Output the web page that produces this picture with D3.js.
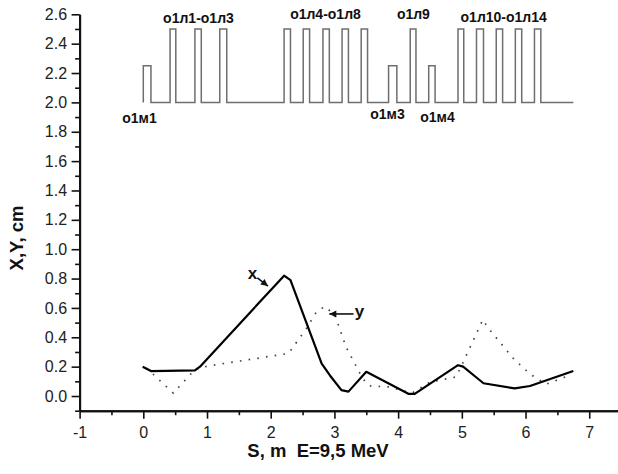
<!DOCTYPE html>
<html>
<head>
<meta charset="utf-8">
<script src="https://cdn.jsdelivr.net/npm/d3@7"></script>
<style>
	html, body { margin: 0; padding: 0; background: #fff; }
	svg { display: block; font-family: "Liberation Sans", Arial, sans-serif; }
</style>
</head>
<body>
<div id="chart"></div>
<script>
// beam envelope, S in m, X and Y in cm
const sX = [-0.01, 0.12, 0.81, 0.89, 2.21, 2.31, 2.80, 2.93, 3.11, 3.22, 3.50, 4.16, 4.26, 4.94, 5.02, 5.34, 5.83, 6.07, 6.75];
const xEnv = [0.20, 0.17, 0.175, 0.20, 0.82, 0.79, 0.22, 0.14, 0.04, 0.03, 0.165, 0.015, 0.015, 0.21, 0.20, 0.087, 0.052, 0.068, 0.17];

const sY = [0.05, 0.47, 0.81, 1.02, 2.28, 2.56, 2.72, 2.85, 3.01, 3.18, 3.40, 3.50, 3.57, 3.85, 4.22, 4.37, 4.50, 4.91, 5.02, 5.33, 5.41, 5.82, 6.07, 6.32, 6.72];
const yEnv = [0.19, 0.02, 0.18, 0.205, 0.29, 0.46, 0.575, 0.61, 0.55, 0.336, 0.155, 0.085, 0.068, 0.062, 0.02, 0.06, 0.095, 0.13, 0.23, 0.52, 0.465, 0.25, 0.15, 0.08, 0.145];

// magnetic structure drawn as pulses on top
const elemStart = [0.00, 0.42, 0.81, 1.20, 2.21, 2.51, 2.82, 3.12, 3.42, 3.85, 4.19, 4.48, 4.94, 5.23, 5.54, 5.84, 6.14];
const elemEnd = [0.12, 0.51, 0.91, 1.31, 2.31, 2.61, 2.92, 3.22, 3.52, 3.98, 4.28, 4.58, 5.03, 5.34, 5.64, 5.94, 6.24];
const elemLevel = [2.25, 2.5, 2.5, 2.5, 2.5, 2.5, 2.5, 2.5, 2.5, 2.25, 2.5, 2.25, 2.5, 2.5, 2.5, 2.5, 2.5];
const structBase = 2.0;
const structEnd = 6.75;

const groupLabels = ['о1м1', 'о1л1-о1л3', 'о1л4-о1л8', 'о1м3', 'о1л9', 'о1м4', 'о1л10-о1л14'];

const xTickValues = [-1, 0, 1, 2, 3, 4, 5, 6, 7];
const xTickLabels = ['-1', '0', '1', '2', '3', '4', '5', '6', '7'];
const yTickValues = [0, 0.2, 0.4, 0.6, 0.8, 1.0, 1.2, 1.4, 1.6, 1.8, 2.0, 2.2, 2.4, 2.6];
const yTickLabels = ['0.0', '0.2', '0.4', '0.6', '0.8', '1.0', '1.2', '1.4', '1.6', '1.8', '2.0', '2.2', '2.4', '2.6'];

// layout (data units), kept apart from the values
const groupLabelAt = [[-0.06, 1.861], [0.866, 2.538], [2.86, 2.566], [3.833, 1.885], [4.24, 2.566], [4.618, 1.869], [5.657, 2.548]];
const curveNames = ['x', 'y'];
const nameAt = [[1.714, 0.795], [3.32, 0.535]];
const nameAnchor = ['middle', 'start'];
const arrowFrom = [[1.79, 0.805], [3.30, 0.559]];
const arrowTo = [[1.957, 0.749], [2.92, 0.559]];

const WIDTH = 618;
const HEIGHT = 474;

const svg = d3.select('#chart').append('svg')
	.attr('width', WIDTH)
	.attr('height', HEIGHT);

svg.append('rect').attr('width', WIDTH).attr('height', HEIGHT).attr('fill', '#fff');

const x = d3.scaleLinear().domain([-1, 7.5]).range([79.6, 621.1]);
const y = d3.scaleLinear().domain([-0.1, 2.6]).range([410.7, 14.3]);

svg.append('defs').append('marker')
	.attr('id', 'head')
	.attr('viewBox', '0 0 10 10')
	.attr('refX', 10).attr('refY', 5)
	.attr('markerUnits', 'userSpaceOnUse')
	.attr('markerWidth', 9).attr('markerHeight', 7)
	.attr('orient', 'auto')
	.append('path')
		.attr('d', 'M0,0L10,5L0,10Z')
		.attr('fill', '#111');

// axes: minor ticks first, then major ticks with labels
const xMinor = d3.axisBottom(x).tickValues(d3.range(-0.5, 7.5, 1)).tickSize(4.5).tickSizeOuter(0).tickFormat('');
const xMajor = d3.axisBottom(x).tickValues(xTickValues).tickSize(8).tickSizeOuter(0).tickPadding(8)
	.tickFormat((d, i) => xTickLabels[i]);
const yMinor = d3.axisLeft(y).tickValues(d3.range(-0.1, 2.6, 0.2)).tickSize(4.5).tickSizeOuter(0).tickFormat('');
const yMajor = d3.axisLeft(y).tickValues(yTickValues).tickSize(8).tickSizeOuter(0).tickPadding(4.5)
	.tickFormat((d, i) => yTickLabels[i]);

const gx = svg.append('g').attr('transform', 'translate(0,' + y(-0.1) + ')');
gx.append('g').call(xMinor);
gx.append('g').call(xMajor);
const gy = svg.append('g').attr('transform', 'translate(' + x(-1) + ',0)');
gy.append('g').call(yMinor);
gy.append('g').call(yMajor);

svg.selectAll('.domain').attr('stroke', '#111').attr('stroke-width', 2);
svg.selectAll('.tick line').attr('stroke', '#111').attr('stroke-width', 1.6);
svg.selectAll('.tick text')
	.attr('fill', '#222')
	.style('font-size', '16px')
	.style('font-family', '"Liberation Sans", Arial, sans-serif');

// axis titles
svg.append('text')
	.attr('x', 318)
	.attr('y', 457)
	.attr('text-anchor', 'middle')
	.attr('font-weight', 'bold')
	.attr('font-size', 18.5)
	.attr('fill', '#111')
	.style('white-space', 'pre')
	.text('S, m  E=9,5 MeV');

svg.append('text')
	.attr('transform', 'translate(23,238) rotate(-90)')
	.attr('text-anchor', 'middle')
	.attr('font-weight', 'bold')
	.attr('font-size', 18.5)
	.attr('fill', '#111')
	.text('X,Y, cm');

// magnetic structure
const structPts = [[elemStart[0], structBase]];
elemStart.forEach((s0, i) => {
	structPts.push([s0, structBase], [s0, elemLevel[i]], [elemEnd[i], elemLevel[i]], [elemEnd[i], structBase]);
});
structPts.push([structEnd, structBase]);

const line = d3.line().x(d => x(d[0])).y(d => y(d[1]));

svg.append('path')
	.attr('d', line(structPts))
	.attr('fill', 'none')
	.attr('stroke', '#6e6e6e')
	.attr('stroke-width', 1.5);

svg.selectAll('text.group')
	.data(groupLabels)
	.enter()
	.append('text')
		.attr('class', 'group')
		.attr('x', (d, i) => x(groupLabelAt[i][0]))
		.attr('y', (d, i) => y(groupLabelAt[i][1]))
		.attr('text-anchor', 'middle')
		.attr('font-weight', 'bold')
		.attr('font-size', 14)
		.attr('fill', '#111')
		.text(d => d);

// envelopes
svg.append('path')
	.attr('d', line(sY.map((s, i) => [s, yEnv[i]])))
	.attr('fill', 'none')
	.attr('stroke', '#444')
	.attr('stroke-width', 1.7)
	.attr('stroke-dasharray', '1.6 7.2');

svg.append('path')
	.attr('d', line(sX.map((s, i) => [s, xEnv[i]])))
	.attr('fill', 'none')
	.attr('stroke', '#000')
	.attr('stroke-width', 2.2)
	.attr('stroke-linejoin', 'round');

// curve names with arrows
curveNames.forEach((name, i) => {
	svg.append('text')
		.attr('x', x(nameAt[i][0]))
		.attr('y', y(nameAt[i][1]))
		.attr('text-anchor', nameAnchor[i])
		.attr('font-weight', 'bold')
		.attr('font-size', 17)
		.attr('fill', '#111')
		.text(name);
	svg.append('line')
		.attr('x1', x(arrowFrom[i][0])).attr('y1', y(arrowFrom[i][1]))
		.attr('x2', x(arrowTo[i][0])).attr('y2', y(arrowTo[i][1]))
		.attr('stroke', '#111')
		.attr('stroke-width', 1.6)
		.attr('marker-end', 'url(#head)');
});
</script>
</body>
</html>
